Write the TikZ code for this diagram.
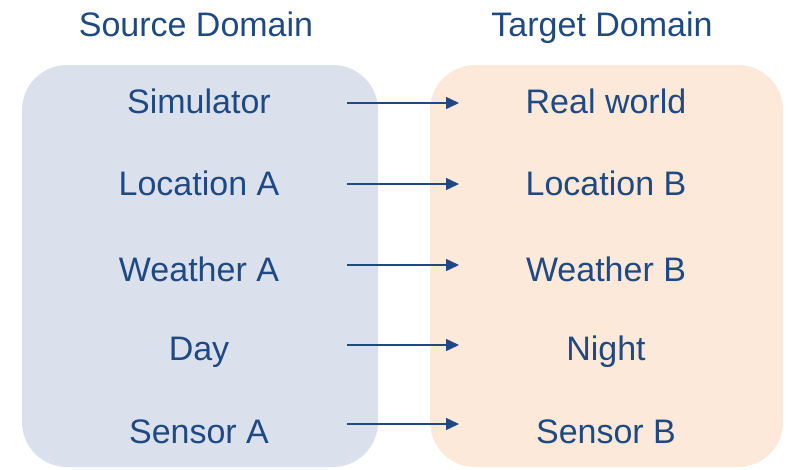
\documentclass[tikz,border=0pt]{standalone}
\usepackage{fontspec}
\setmainfont{Liberation Sans}
\usetikzlibrary{arrows.meta}
\definecolor{txt}{RGB}{31,73,130}
\definecolor{srcfill}{RGB}{219,225,236}
\definecolor{tgtfill}{RGB}{253,233,218}
\tikzset{
  x=1pt,y=-1pt,
  panel/.style={rounded corners=45pt},
  title/.style={text=txt,font=\fontsize{34}{34}\selectfont,inner sep=0pt,anchor=base},
  item/.style={text=txt,font=\fontsize{34}{34}\selectfont,inner sep=0pt,anchor=base},
  conn/.style={draw=txt,line width=1.4pt,-{Triangle[length=13pt,width=12pt]}}
}
\begin{document}
\begin{tikzpicture}
\useasboundingbox (0,0) rectangle (795,469);
\fill[srcfill,panel] (22,65) rectangle (378,467);
\fill[tgtfill,panel] (430,65) rectangle (783,467);
\node[title] (ts) at (196,36) {Source Domain};
\node[title] (tt) at (602,36) {Target Domain};
\foreach \i/\a/\b/\y/\ay in {1/Simulator/Real world/113/103, 2/Location A/Location B/195/184, 3/Weather A/Weather B/281/265, 4/Day/Night/360/345, 5/Sensor A/Sensor B/443/424}{
  \node[item] (s\i) at (199,\y) {\a};
  \node[item] (t\i) at (606,\y) {\b};
  \coordinate (p\i) at (347,\ay);
  \coordinate (q\i) at (459,\ay);
  \draw[conn] (p\i) -- (q\i);
}
\end{tikzpicture}
\end{document}
